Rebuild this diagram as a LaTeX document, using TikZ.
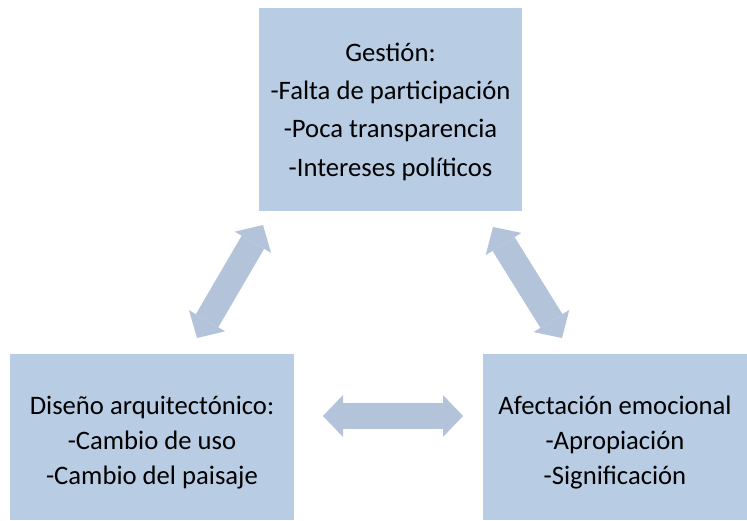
\documentclass[tikz,border=0pt]{standalone}
\usepackage{fontspec}
\setmainfont{Carlito}
\usetikzlibrary{arrows.meta}
\definecolor{boxblue}{HTML}{B8CCE4}
\definecolor{arrowblue}{HTML}{B3C3DA}

\begin{document}
\begin{tikzpicture}[x=0.75pt, y=-0.75pt]
    \tikzset{topic/.style={fill=boxblue, draw=none, align=center, inner sep=0pt,
                           font=\fontsize{20}{28.8}\selectfont},
             small topic/.style={topic, font=\fontsize{20}{26.4}\selectfont},
             link/.style={draw=arrowblue, line width=19.5pt,
                          {Triangle[length=15pt, width=31.5pt, line width=0pt]}-{Triangle[length=15pt, width=31.5pt, line width=0pt]}}}
    \useasboundingbox (0,0) rectangle (747,521);
    \node[topic, minimum width=263*0.75pt, minimum height=203*0.75pt] (gestion) at (390.5,109.5)
        {\rule{0pt}{17pt}Gestión:\\-Falta de participación\\-Poca transparencia\\-Intereses políticos};
    \node[small topic, minimum width=284*0.75pt, minimum height=166*0.75pt] (diseno) at (152,437)
        {\rule{0pt}{22pt}Diseño arquitectónico:\\-Cambio de uso\\-Cambio del paisaje};
    \node[small topic, minimum width=264*0.75pt, minimum height=166*0.75pt] (afecta) at (615,437)
        {\rule{0pt}{22pt}Afectación emocional\\-Apropiación\\-Significación};
    \coordinate (g1) at (263,225);
    \coordinate (d1) at (197,338);
    \coordinate (g2) at (493,227);
    \coordinate (a2) at (562,338);
    \coordinate (d3) at (323,416);
    \coordinate (a3) at (463,416);
    \draw[link] (g1) -- (d1);
    \draw[link] (g2) -- (a2);
    \draw[link] (d3) -- (a3);
\end{tikzpicture}
\end{document}
